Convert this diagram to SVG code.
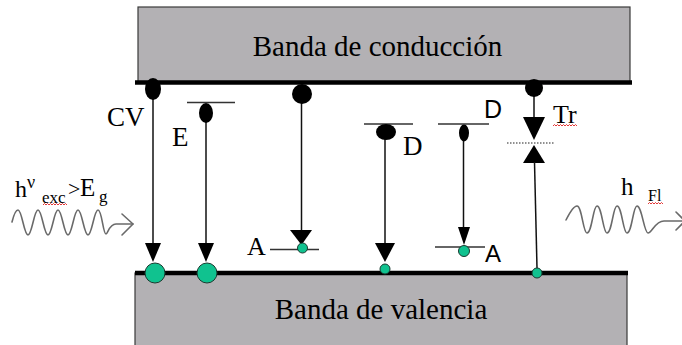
<svg xmlns="http://www.w3.org/2000/svg" width="682" height="345" viewBox="0 0 682 345">
<style>
.band{fill:#b3b1b4;stroke:#3a3a3a;stroke-width:1.2}
.edge{stroke:#000;stroke-width:4.5;fill:none}
.ser{font-family:"Liberation Serif","Times New Roman",serif;fill:#000}
.sans{font-family:"Liberation Sans",Arial,sans-serif;fill:#000}
.ln{stroke:#111;stroke-width:1.5;fill:none}
.lvl{stroke:#333;stroke-width:1.5;fill:none}
.dot{fill:#000}
.grn{fill:#10c28f;stroke:#1a3a30;stroke-width:1}
.head{fill:#000}
.wave{stroke:#6a6a6a;stroke-width:1.6;fill:none;stroke-linecap:round;stroke-linejoin:round}
.sq{stroke:#e02020;stroke-width:0.9;fill:none}
</style>
<g id="conduction-band">
<rect class="band" x="138" y="7" width="492" height="75"/>
<line class="edge" x1="135" y1="82.5" x2="632" y2="82.5"/>
<text class="ser" x="377.5" y="56" font-size="29" text-anchor="middle">Banda de conducción</text>
</g>
<g id="valence-band">
<rect class="band" x="135" y="273" width="492" height="80"/>
<line class="edge" x1="135" y1="273" x2="628" y2="273"/>
<text class="ser" x="381" y="319" font-size="29" text-anchor="middle">Banda de valencia</text>
</g>
<g id="connectors">
<line class="ln" x1="153" y1="89" x2="153" y2="244"/>
<polygon class="head" points="145,243 161,243 153,262"/>
<line class="ln" x1="206" y1="113" x2="206" y2="244"/>
<polygon class="head" points="198,243 214,243 206,262"/>
<line class="ln" x1="301.5" y1="94" x2="301.5" y2="231"/>
<polygon class="head" points="290,230 312,230 301.5,245"/>
<line class="ln" x1="385" y1="132" x2="385" y2="244"/>
<polygon class="head" points="375,243 395,243 385,262"/>
<line class="ln" x1="463.5" y1="133" x2="463.5" y2="228"/>
<polygon class="head" points="458,227 470,227 464,245"/>
<line class="ln" x1="534" y1="88" x2="534" y2="118"/>
<polygon class="head" points="523,117 545,117 534,140"/>
<polygon class="head" points="534,145 523,163 545,163"/>
<line class="ln" x1="534.5" y1="162" x2="537" y2="268"/>
</g>
<g id="CV">
<ellipse class="dot" cx="153" cy="89" rx="8" ry="11"/>
<circle class="grn" cx="155" cy="273" r="10"/>
<text class="ser" x="107" y="126" font-size="27">CV</text>
</g>
<g id="E">
<line class="lvl" x1="187" y1="102.5" x2="235" y2="102.5"/>
<ellipse class="dot" cx="206" cy="113" rx="7" ry="10"/>
<circle class="grn" cx="207" cy="273" r="10"/>
<text class="ser" x="172" y="146" font-size="27">E</text>
</g>
<g id="CB-A">
<circle class="dot" cx="302" cy="94" r="10"/>
<line class="lvl" x1="270" y1="249.5" x2="319" y2="249.5"/>
<circle class="grn" cx="302.5" cy="248" r="5"/>
<text class="ser" x="247" y="255" font-size="26">A</text>
</g>
<g id="D-VB">
<line class="lvl" x1="364" y1="124" x2="413" y2="124"/>
<ellipse class="dot" cx="386" cy="132" rx="10" ry="8"/>
<circle class="grn" cx="385" cy="269" r="5"/>
<text class="ser" x="403" y="155" font-size="27">D</text>
</g>
<g id="D-A">
<line class="lvl" x1="438" y1="124" x2="489" y2="124"/>
<ellipse class="dot" cx="464" cy="133" rx="5" ry="8.5"/>
<line class="lvl" x1="435" y1="247" x2="485" y2="247"/>
<circle class="grn" cx="464" cy="251" r="5.5"/>
<text class="sans" x="484" y="118" font-size="25">D</text>
<text class="sans" x="485" y="262" font-size="24">A</text>
</g>
<g id="Tr">
<circle class="dot" cx="534" cy="88" r="9"/>
<line x1="507" y1="143" x2="555" y2="143" stroke="#222" stroke-width="1.2" stroke-dasharray="1.5 1.5"/>
<circle class="grn" cx="537" cy="273" r="5"/>
<text class="ser" x="553" y="123" font-size="26">Tr</text>
<path class="sq" d="M553,126 l1.5,-1.5 l1.5,1.5 l1.5,-1.5 l1.5,1.5 l1.5,-1.5 l1.5,1.5 l1.5,-1.5 l1.5,1.5 l1.5,-1.5 l1.5,1.5 l1.5,-1.5 l1.5,1.5 l1.5,-1.5 l1.5,1.5 l1.5,-1.5 l1.5,1.5"/>
</g>
<g id="excitation">
<path class="wave" d="M12,222 C14,214 16,210 18,210 C22,210 24,235 28,235 C32,235 34,210 38,210 C42,210 44,235 48,235 C52,235 54,210 58,210 C62,210 64,235 68,235 C72,235 74,210 78,210 C82,210 84,235 88,235 C92,235 94,210 98,210 C102,210 103,234 106,234 C108,234 109,224 116,224 L133,224"/>
<path class="wave" d="M122,214 L133,224 L122,235"/>
<text class="ser" x="15" y="197" font-size="24">h</text>
<text class="ser" x="27" y="188" font-size="18">ν</text>
<text class="ser" x="42" y="203" font-size="17">exc</text>
<text class="ser" x="68" y="196" font-size="22">&gt;</text>
<text class="ser" x="80" y="196" font-size="25">E</text>
<text class="ser" x="99" y="202" font-size="17">g</text>
<path class="sq" d="M43,205 l1.5,-1.5 l1.5,1.5 l1.5,-1.5 l1.5,1.5 l1.5,-1.5 l1.5,1.5 l1.5,-1.5 l1.5,1.5 l1.5,-1.5 l1.5,1.5 l1.5,-1.5 l1.5,1.5 l1.5,-1.5 l1.5,1.5 l1.5,-1.5 l1.5,1.5"/>
</g>
<g id="emission">
<path class="wave" d="M566,220 C570,212 574,206 577,206 C582,206 583,233 587,233 C592,233 593,206 597,206 C602,206 603,233 607,233 C612,233 613,206 617,206 C622,206 623,233 627,233 C632,233 633,206 637,206 C642,206 644,233 648,233 C652,233 655,221 664,221 L682,221"/>
<path class="wave" d="M676,212 L685,221 L676,230"/>
<text class="ser" x="621" y="195" font-size="25">h</text>
<text class="ser" x="648" y="201" font-size="16">Fl</text>
<path class="sq" d="M648,204 l1.5,-1.5 l1.5,1.5 l1.5,-1.5 l1.5,1.5 l1.5,-1.5 l1.5,1.5 l1.5,-1.5 l1.5,1.5 l1.5,-1.5 l1.5,1.5"/>
</g>
</svg>
